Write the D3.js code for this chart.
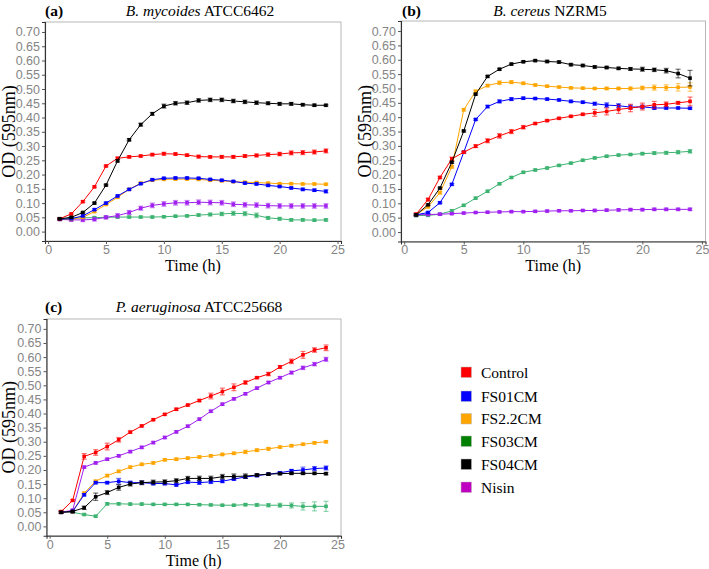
<!DOCTYPE html>
<html><head><meta charset="utf-8">
<script src="https://cdn.jsdelivr.net/npm/d3@7"></script>
<style>body{margin:0;background:#fff}svg{display:block}</style>
</head><body>
<script>
// ---------- DATA ----------
const hours = [1,2,3,4,5,6,7,8,9,10,11,12,13,14,15,16,17,18,19,20,21,22,23,24];
const seriesNames = ["Control","FS01CM","FS2.2CM","FS03CM","FS04CM","Nisin"];
const lineColors = ["#FF0000","#0000FF","#FFA500","#3CB371","#000000","#A020F0"];
const legendColors = ["#FF0000","#0000FF","#FFA500","#008000","#000000","#C000C0"];
const xTicks = [0,5,10,15,20,25];
const yTicks = [0,0.05,0.10,0.15,0.20,0.25,0.30,0.35,0.40,0.45,0.50,0.55,0.60,0.65,0.70];
const panelTags = ["(a)","(b)","(c)"];
const organismItalic = ["B. mycoides","B. cereus","P. aeruginosa"];
const organismStrain = ["ATCC6462","NZRM5","ATCC25668"];
const xTitle = "Time (h)";
const yTitle = "OD (595nm)";

// Panel (a) B. mycoides
const aControl = [0.045,0.062,0.105,0.157,0.230,0.257,0.262,0.265,0.270,0.273,0.272,0.268,0.263,0.262,0.262,0.262,0.265,0.267,0.270,0.272,0.276,0.277,0.279,0.283];
const aFS01CM  = [0.043,0.045,0.055,0.077,0.100,0.125,0.148,0.168,0.182,0.187,0.188,0.188,0.187,0.183,0.180,0.176,0.170,0.167,0.162,0.158,0.153,0.148,0.145,0.141];
const aFS22CM  = [0.043,0.043,0.050,0.070,0.095,0.120,0.148,0.170,0.180,0.183,0.184,0.184,0.183,0.180,0.178,0.175,0.173,0.172,0.170,0.168,0.168,0.167,0.167,0.166];
const aFS03CM  = [0.045,0.047,0.048,0.049,0.050,0.051,0.051,0.051,0.051,0.052,0.054,0.055,0.058,0.060,0.062,0.064,0.063,0.057,0.048,0.045,0.041,0.041,0.040,0.041];
const aFS04CM  = [0.045,0.050,0.067,0.100,0.163,0.248,0.322,0.375,0.413,0.440,0.450,0.452,0.460,0.462,0.462,0.458,0.455,0.452,0.450,0.448,0.448,0.445,0.443,0.443];
const aNisin   = [0.043,0.041,0.041,0.043,0.050,0.056,0.067,0.082,0.092,0.097,0.101,0.101,0.103,0.102,0.101,0.096,0.094,0.093,0.091,0.090,0.090,0.090,0.090,0.090];
const aControlErr = [0.003,0.003,0.003,0.003,0.003,0.004,0.004,0.003,0.004,0.005,0.004,0.004,0.005,0.004,0.005,0.005,0.005,0.005,0.006,0.006,0.007,0.007,0.007,0.007];
const aFS01CMErr  = [0.003,0.003,0.003,0.003,0.003,0.003,0.003,0.003,0.003,0.003,0.003,0.003,0.003,0.003,0.003,0.003,0.003,0.003,0.003,0.003,0.003,0.004,0.004,0.005];
const aFS22CMErr  = [0.003,0.003,0.003,0.003,0.003,0.003,0.003,0.003,0.003,0.003,0.003,0.003,0.003,0.003,0.003,0.003,0.003,0.003,0.003,0.003,0.003,0.003,0.003,0.003];
const aFS03CMErr  = [0.003,0.003,0.003,0.003,0.003,0.003,0.003,0.003,0.003,0.003,0.003,0.003,0.004,0.005,0.006,0.007,0.007,0.008,0.005,0.005,0.004,0.004,0.004,0.004];
const aFS04CMErr  = [0.002,0.002,0.002,0.003,0.003,0.004,0.004,0.005,0.005,0.007,0.006,0.006,0.006,0.006,0.006,0.006,0.006,0.006,0.005,0.005,0.005,0.004,0.004,0.003];
const aNisinErr   = [0.004,0.005,0.006,0.006,0.006,0.007,0.007,0.007,0.008,0.008,0.008,0.008,0.008,0.008,0.008,0.008,0.008,0.008,0.008,0.008,0.008,0.008,0.008,0.008];

// Panel (b) B. cereus
const bControl = [0.062,0.113,0.190,0.255,0.278,0.299,0.318,0.335,0.350,0.365,0.378,0.388,0.396,0.403,0.410,0.415,0.420,0.427,0.432,0.437,0.443,0.445,0.450,0.455];
const bFS01CM  = [0.060,0.068,0.102,0.166,0.278,0.392,0.437,0.455,0.463,0.466,0.465,0.463,0.460,0.455,0.452,0.447,0.442,0.440,0.435,0.436,0.432,0.432,0.432,0.431];
const bFS22CM  = [0.060,0.088,0.137,0.227,0.426,0.490,0.510,0.520,0.522,0.518,0.512,0.508,0.505,0.502,0.501,0.500,0.500,0.500,0.500,0.502,0.503,0.503,0.504,0.505];
const bFS03CM  = [0.057,0.058,0.062,0.074,0.093,0.118,0.142,0.168,0.190,0.208,0.216,0.223,0.232,0.240,0.250,0.258,0.264,0.268,0.270,0.273,0.275,0.276,0.278,0.281];
const bFS04CM  = [0.060,0.095,0.153,0.243,0.352,0.480,0.542,0.567,0.585,0.593,0.597,0.594,0.592,0.583,0.580,0.575,0.573,0.570,0.568,0.567,0.565,0.562,0.552,0.536];
const bNisin   = [0.060,0.061,0.062,0.064,0.066,0.068,0.069,0.070,0.071,0.071,0.072,0.073,0.074,0.074,0.075,0.075,0.076,0.077,0.078,0.078,0.079,0.079,0.079,0.079];
const bControlErr = [0.005,0.005,0.004,0.006,0.003,0.005,0.007,0.008,0.007,0.006,0.003,0.003,0.003,0.003,0.003,0.012,0.012,0.014,0.013,0.012,0.012,0.008,0.005,0.015];
const bFS01CMErr  = [0.003,0.003,0.003,0.003,0.003,0.003,0.004,0.005,0.005,0.004,0.003,0.003,0.003,0.004,0.004,0.005,0.008,0.007,0.007,0.006,0.005,0.004,0.003,0.003];
const bFS22CMErr  = [0.004,0.004,0.004,0.004,0.004,0.004,0.004,0.006,0.005,0.004,0.003,0.003,0.003,0.003,0.003,0.003,0.004,0.004,0.005,0.006,0.009,0.010,0.013,0.015];
const bFS03CMErr  = [0.003,0.003,0.003,0.003,0.003,0.003,0.003,0.003,0.003,0.003,0.003,0.003,0.003,0.003,0.003,0.003,0.003,0.003,0.003,0.004,0.005,0.005,0.006,0.006];
const bFS04CMErr  = [0.003,0.003,0.003,0.003,0.003,0.003,0.003,0.003,0.003,0.003,0.003,0.004,0.004,0.004,0.004,0.004,0.004,0.004,0.005,0.007,0.006,0.008,0.015,0.027];
const bNisinErr   = [0.003,0.003,0.003,0.003,0.003,0.003,0.003,0.003,0.003,0.003,0.003,0.003,0.003,0.003,0.003,0.004,0.004,0.004,0.004,0.004,0.004,0.004,0.004,0.004];

// Panel (c) P. aeruginosa
const cControl = [0.052,0.092,0.248,0.262,0.283,0.307,0.334,0.356,0.378,0.397,0.415,0.430,0.446,0.462,0.478,0.493,0.510,0.527,0.540,0.565,0.585,0.608,0.625,0.633];
const cFS01CM  = [0.050,0.053,0.112,0.155,0.155,0.160,0.155,0.155,0.152,0.152,0.147,0.157,0.155,0.158,0.160,0.168,0.175,0.180,0.185,0.190,0.197,0.200,0.205,0.207];
const cFS22CM  = [0.050,0.052,0.118,0.160,0.180,0.195,0.210,0.220,0.225,0.236,0.238,0.242,0.246,0.250,0.255,0.259,0.264,0.270,0.275,0.281,0.286,0.291,0.296,0.300];
const cFS03CM  = [0.050,0.050,0.042,0.036,0.080,0.080,0.079,0.079,0.078,0.078,0.078,0.078,0.077,0.076,0.075,0.075,0.077,0.076,0.075,0.075,0.074,0.071,0.071,0.071];
const cFS04CM  = [0.050,0.053,0.066,0.105,0.120,0.138,0.150,0.155,0.157,0.158,0.162,0.170,0.170,0.170,0.176,0.177,0.178,0.182,0.185,0.187,0.188,0.188,0.188,0.187];
const cNisin   = [0.050,0.057,0.210,0.225,0.238,0.250,0.265,0.280,0.297,0.315,0.335,0.355,0.380,0.408,0.433,0.452,0.470,0.490,0.510,0.527,0.545,0.562,0.575,0.592];
const cControlErr = [0.005,0.003,0.010,0.010,0.012,0.008,0.004,0.003,0.003,0.003,0.004,0.003,0.004,0.010,0.012,0.012,0.006,0.003,0.006,0.005,0.008,0.012,0.008,0.010];
const cFS01CMErr  = [0.004,0.004,0.004,0.004,0.004,0.010,0.005,0.005,0.005,0.005,0.004,0.005,0.006,0.006,0.005,0.005,0.005,0.004,0.004,0.004,0.005,0.010,0.007,0.007];
const cFS22CMErr  = [0.004,0.004,0.004,0.004,0.004,0.004,0.004,0.004,0.004,0.004,0.004,0.004,0.004,0.004,0.004,0.004,0.006,0.005,0.005,0.004,0.004,0.004,0.004,0.004];
const cFS03CMErr  = [0.003,0.003,0.003,0.003,0.004,0.004,0.004,0.004,0.003,0.003,0.003,0.003,0.003,0.003,0.003,0.003,0.004,0.005,0.006,0.007,0.009,0.013,0.016,0.018];
const cFS04CMErr  = [0.003,0.003,0.006,0.013,0.007,0.010,0.007,0.007,0.007,0.007,0.007,0.007,0.008,0.008,0.008,0.009,0.008,0.005,0.004,0.004,0.004,0.004,0.004,0.004];
const cNisinErr   = [0.004,0.004,0.004,0.004,0.004,0.004,0.004,0.004,0.004,0.004,0.004,0.004,0.004,0.004,0.004,0.004,0.004,0.004,0.004,0.004,0.005,0.006,0.006,0.007];

const panelValues = [
  [aControl,aFS01CM,aFS22CM,aFS03CM,aFS04CM,aNisin],
  [bControl,bFS01CM,bFS22CM,bFS03CM,bFS04CM,bNisin],
  [cControl,cFS01CM,cFS22CM,cFS03CM,cFS04CM,cNisin]];
const panelErrors = [
  [aControlErr,aFS01CMErr,aFS22CMErr,aFS03CMErr,aFS04CMErr,aNisinErr],
  [bControlErr,bFS01CMErr,bFS22CMErr,bFS03CMErr,bFS04CMErr,bNisinErr],
  [cControlErr,cFS01CMErr,cFS22CMErr,cFS03CMErr,cFS04CMErr,cNisinErr]];

// ---------- LAYOUT ----------
const W = 709, H = 569;
const layout = [
  {l:45,  r:341,   t:22,    b:241,   tagX:45,  titleX:200, titleY:16,  xtY:271, ytX:15},
  {l:401, r:705.5, t:21,    b:241.5, tagX:402, titleX:550, titleY:16,  xtY:271, ytX:371},
  {l:46.5,r:341,   t:319,   b:535.7, tagX:45,  titleX:199, titleY:312, xtY:565.5, ytX:15}
];
const xDomain = [-0.27, 25.3];
const yDomain = [-0.033, 0.735];
const serif = "'Liberation Serif','Times New Roman',serif";
const sans = "'Liberation Sans',Arial,sans-serif";
const drawOrder = [3,5,2,1,0,4];

const svg = d3.select("body").append("svg").attr("width",W).attr("height",H);

layout.forEach((L,p)=>{
  const x = d3.scaleLinear().domain(xDomain).range([L.l,L.r]);
  const y = d3.scaleLinear().domain(yDomain).range([L.b,L.t]);
  const g = svg.append("g");

  g.append("rect").attr("x",L.l).attr("y",L.t).attr("width",L.r-L.l).attr("height",L.b-L.t)
    .attr("fill","none").attr("stroke","#b8b8b8").attr("stroke-width",1);

  const xa = g.append("g").attr("transform",`translate(0,${L.b})`)
    .call(d3.axisBottom(x).tickValues(xTicks).tickSize(3).tickPadding(1).tickFormat(d3.format("d")));
  const ya = g.append("g").attr("transform",`translate(${L.l},0)`)
    .call(d3.axisLeft(y).tickValues(yTicks).tickSize(3).tickPadding(2).tickFormat(d3.format(".2f")));
  [xa,ya].forEach(a=>{
    a.select(".domain").attr("stroke","#333").attr("stroke-width",1.1);
    a.selectAll(".tick line").attr("stroke","#555");
    a.selectAll(".tick text").attr("fill","#858585").attr("font-family",sans).attr("font-size",12.5);
  });

  drawOrder.forEach(si=>{
    const vals = panelValues[p][si], errs = panelErrors[p][si];
    const col = lineColors[si];
    const pts = hours.map((h,i)=>({h, v:vals[i], e:errs[i]}));
    const sg = g.append("g");
    sg.append("path").datum(pts)
      .attr("d", d3.line().x(d=>x(d.h)).y(d=>y(d.v)))
      .attr("fill","none").attr("stroke",col).attr("stroke-width",1);
    const eb = sg.selectAll("g.eb").data(pts).join("g").attr("class","eb")
      .attr("stroke",col).attr("stroke-opacity",0.55).attr("stroke-width",1.2);
    eb.append("line").attr("x1",d=>x(d.h)).attr("x2",d=>x(d.h)).attr("y1",d=>y(d.v-d.e)).attr("y2",d=>y(d.v+d.e));
    eb.append("line").attr("x1",d=>x(d.h)-2.5).attr("x2",d=>x(d.h)+2.5).attr("y1",d=>y(d.v-d.e)).attr("y2",d=>y(d.v-d.e));
    eb.append("line").attr("x1",d=>x(d.h)-2.5).attr("x2",d=>x(d.h)+2.5).attr("y1",d=>y(d.v+d.e)).attr("y2",d=>y(d.v+d.e));
    sg.selectAll("rect.pt").data(pts).join("rect").attr("class","pt")
      .attr("x",d=>x(d.h)-1.8).attr("y",d=>y(d.v)-1.8).attr("width",3.6).attr("height",3.6)
      .attr("fill",col);
  });

  g.append("text").attr("x",L.tagX).attr("y",L.titleY).attr("font-family",serif)
    .attr("font-weight","bold").attr("font-size",15.5).text(panelTags[p]);
  const t = g.append("text").attr("x",L.titleX).attr("y",L.titleY).attr("text-anchor","middle")
    .attr("font-family",serif).attr("font-size",15.5);
  t.append("tspan").attr("font-style","italic").text(organismItalic[p]);
  t.append("tspan").text(" "+organismStrain[p]);

  g.append("text").attr("x",(L.l+L.r)/2).attr("y",L.xtY).attr("text-anchor","middle")
    .attr("font-family",serif).attr("font-size",16).text(xTitle);
  g.append("text").attr("transform",`translate(${L.ytX},${(L.t+L.b)/2}) rotate(-90)`)
    .attr("text-anchor","middle").attr("font-family",serif).attr("font-size",18).text(yTitle);
});

const lg = svg.append("g");
const legY = [372,396,418.5,441,464,487];
seriesNames.forEach((n,i)=>{
  lg.append("rect").attr("x",461).attr("y",legY[i]-5).attr("width",10.5).attr("height",10.5)
    .attr("fill",legendColors[i]).attr("stroke","#bbb").attr("stroke-width",0.5);
  lg.append("text").attr("x",481).attr("y",legY[i]+5.5).attr("font-family",serif)
    .attr("font-size",15.5).text(n);
});
</script>
</body></html>
